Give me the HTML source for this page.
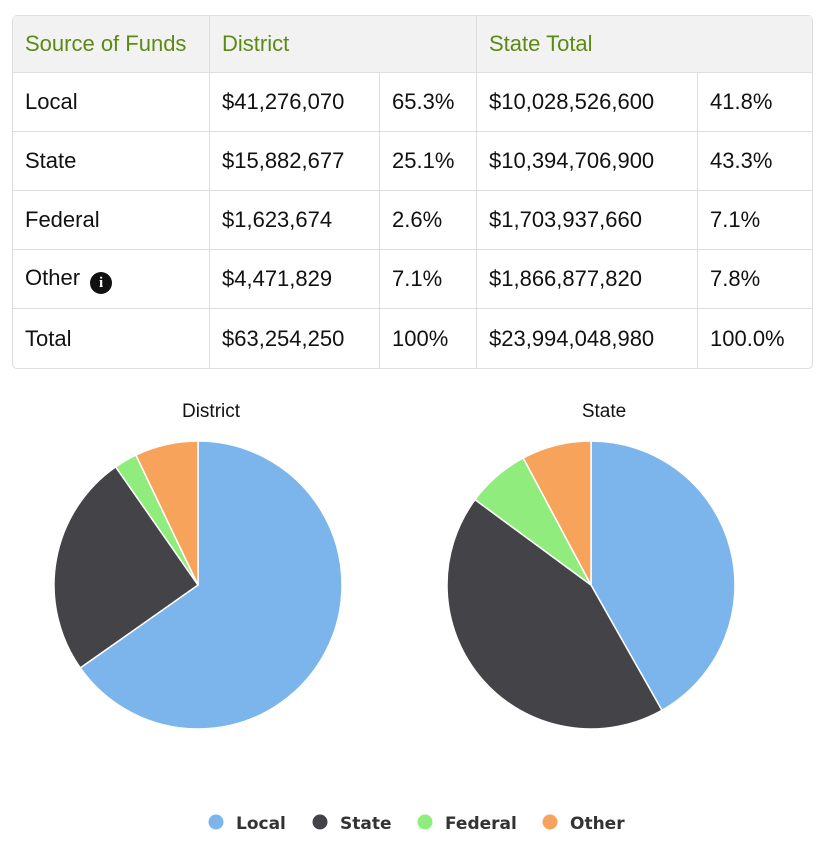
<!DOCTYPE html>
<html><head><meta charset="utf-8"><style>
body{margin:0;width:830px;height:850px;background:#fff;font-family:"Liberation Sans",sans-serif;position:relative;overflow:hidden}
table{position:absolute;left:12px;top:15px;width:801px;border-collapse:separate;border-spacing:0;border:1px solid #ddd;border-radius:5px;font-size:22px;color:#111}
td,th{border-right:1px solid #ddd;border-bottom:1px solid #ddd;padding:0 0 0 12px;text-align:left;font-weight:normal;height:59px;box-sizing:border-box}
tr td:last-child,tr th:last-child{border-right:none}
tr:last-child td{border-bottom:none}
th{background:#f2f2f2;color:#5d8a14;height:57px}
.info{display:inline-block;width:22px;height:22px;border-radius:50%;background:#111;color:#fff;font:bold 15px "Liberation Serif",serif;text-align:center;line-height:22px;vertical-align:-2px;margin-left:4px}
svg{position:absolute;left:0;top:0}
</style></head><body>
<table>
<tr><th style="width:197px">Source of Funds</th><th colspan="2">District</th><th colspan="2">State Total</th></tr>
<tr><td style="width:197px">Local</td><td style="width:170px">$41,276,070</td><td style="width:97px">65.3%</td><td style="width:221px">$10,028,526,600</td><td>41.8%</td></tr>
<tr><td>State</td><td>$15,882,677</td><td>25.1%</td><td>$10,394,706,900</td><td>43.3%</td></tr>
<tr><td>Federal</td><td>$1,623,674</td><td>2.6%</td><td>$1,703,937,660</td><td>7.1%</td></tr>
<tr><td>Other <span class="info">i</span></td><td>$4,471,829</td><td>7.1%</td><td>$1,866,877,820</td><td>7.8%</td></tr>
<tr><td>Total</td><td>$63,254,250</td><td>100%</td><td>$23,994,048,980</td><td>100.0%</td></tr>
</table>
<svg id="chart" width="830" height="850"></svg>
<script>
const categories=["Local","State","Federal","Other"];
const districtValues=[65.3,25.1,2.6,7.1];
const stateValues=[41.8,43.3,7.1,7.8];
const colors=["#7cb5ec","#434348","#90ed7d","#f7a35c"];
const NS="http://www.w3.org/2000/svg";
const svg=document.getElementById("chart");
function mk(t,a){const e=document.createElementNS(NS,t);for(const k in a)e.setAttribute(k,a[k]);svg.appendChild(e);return e;}
function pie(values,cx,cy,r,title,name){
  const t=mk("text",{x:cx+13,y:417,"text-anchor":"middle","font-size":19,fill:"#111","font-family":"Liberation Sans, sans-serif"});
  t.textContent=title;
  
  
  const tot=values.reduce((a,b)=>a+b,0);let a0=0;
  values.forEach((v,i)=>{
    const a1=a0+v/tot*2*Math.PI;
    const x0=cx+r*Math.sin(a0),y0=cy-r*Math.cos(a0),x1=cx+r*Math.sin(a1),y1=cy-r*Math.cos(a1);
    const p=mk("path",{d:`M${cx},${cy}L${x0},${y0}A${r},${r} 0 ${a1-a0>Math.PI?1:0} 1 ${x1},${y1}Z`,fill:colors[i],stroke:"#fff","stroke-width":1.5});
    
    
    a0=a1;
  });
}
pie(districtValues,198,585,144,"District","district-pie");
pie(stateValues,591,585,144,"State","state-pie");
const lx=[216,320,425,550];
categories.forEach((c,i)=>{
  const d=mk("circle",{cx:lx[i],cy:822,r:7.5,fill:colors[i]});
  
  
  const t=mk("text",{x:lx[i]+20,y:829,"font-size":17,"font-weight":"bold",fill:"#333","font-family":"DejaVu Sans, sans-serif"});
  t.textContent=c;
  
  
});
</script>
</body></html>
